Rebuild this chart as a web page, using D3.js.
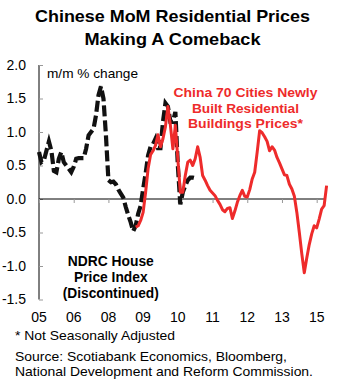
<!DOCTYPE html>
<html><head><meta charset="utf-8">
<script src="https://cdn.jsdelivr.net/npm/d3@7/dist/d3.min.js"></script>
<style>body{margin:0;background:#fff;} svg{display:block;font-family:"Liberation Sans",Arial,sans-serif;}</style>
</head><body><div id="chart"></div>
<script>
// Month index (from start of axis) for tick marks, and their labels
const tickMonths = [0, 14, 28, 42, 56, 70, 84, 98, 112];
const tickLabels = ["05", "06", "08", "09", "10", "11", "12", "13", "15"];
const yTicks = [-1.5, -1.0, -0.5, 0.0, 0.5, 1.0, 1.5, 2.0];

// NDRC House Price Index (m/m %), monthly from month 0
const ndrcStart = 0;
const ndrcValues = [0.70,0.55,0.58,0.72,0.86,0.72,0.42,0.40,0.60,0.70,
  0.55,0.50,0.45,0.40,0.48,0.60,0.61,0.61,0.61,0.75,
  0.95,1.00,1.05,1.25,1.55,1.68,1.50,0.95,0.28,0.25,
  0.26,0.22,0.14,0.08,0.02,-0.12,-0.24,-0.35,-0.48,-0.40,
  -0.22,-0.10,0.15,0.38,0.65,0.78,0.82,0.90,0.76,0.76,
  1.15,1.43,1.38,1.15,1.15,1.30,0.50,-0.08,0.10,0.20,
  0.28,0.32,0.32,0.31];

// China 70 cities newly built residential prices (m/m %), monthly from month 39
const cityStart = 39;
const cityValues = [-0.42,-0.40,-0.32,-0.20,0.10,0.45,0.66,0.72,0.80,0.96,
  0.78,0.90,1.08,1.38,1.10,0.75,1.10,0.60,0.10,0.10,
  0.35,0.55,0.58,0.50,0.60,0.78,0.62,0.35,0.28,0.20,
  0.13,0.09,0.05,-0.02,-0.08,-0.16,-0.19,-0.14,-0.13,-0.29,
  -0.18,-0.05,0.05,0.13,0.04,0.03,0.14,0.30,0.40,0.70,
  1.02,0.99,0.93,0.86,0.72,0.78,0.73,0.62,0.54,0.45,
  0.36,0.35,0.22,0.15,0.04,-0.20,-0.50,-0.82,-1.10,-0.88,
  -0.68,-0.52,-0.40,-0.43,-0.30,-0.15,-0.10,0.20];

const W = 342, H = 391;
const svg = d3.select("#chart").append("svg").attr("width", W).attr("height", H);

const x = d3.scaleLinear().domain([0, 116]).range([39, 326.6]);
const y = d3.scaleLinear().domain([-1.5, 2.0]).range([299.5, 65]);

// helper for text with a fitted width
function txt(g, s, px, py, size, len, opts = {}) {
  const t = g.append("text").attr("x", px).attr("y", py).attr("font-size", size).text(s);
  if (len) t.attr("textLength", len).attr("lengthAdjust", "spacingAndGlyphs");
  if (opts.anchor) t.attr("text-anchor", opts.anchor);
  if (opts.bold) t.attr("font-weight", "bold");
  if (opts.fill) t.attr("fill", opts.fill);
  return t;
}

// Title
txt(svg, "Chinese MoM Residential Prices", 172.5, 22, 16.5, 275, {anchor: "middle", bold: true});
txt(svg, "Making A Comeback", 172.5, 44.5, 16.5, 176, {anchor: "middle", bold: true});

// Y axis
const yAxis = svg.append("g").attr("transform", `translate(${x(0)},0)`)
  .call(d3.axisLeft(y).tickValues(yTicks).tickFormat(d3.format(".1f")).tickSize(-4).tickPadding(13));
yAxis.select(".domain").attr("stroke", "#000").attr("d", `M0,${y(-1.5)}V${y(2.0)}`);
yAxis.selectAll(".tick line").attr("stroke", "#999");
yAxis.selectAll(".tick text").attr("font-size", 14).attr("fill", "#000")
  .attr("font-family", "Liberation Sans, Arial, sans-serif").text(d => d3.format(".1f")(d).replace("−", "-"));

// X axis at zero
const xAxis = svg.append("g").attr("transform", `translate(0,${y(0)})`)
  .call(d3.axisBottom(x).tickValues(tickMonths).tickFormat("").tickSize(4).tickSizeOuter(0));
xAxis.select(".domain").attr("stroke", "#000").attr("d", `M${x(0)},0H${x(116) - 1}`);
xAxis.selectAll(".tick line").attr("stroke", "#999");

// X tick labels at bottom
svg.append("g").selectAll("text").data(tickMonths).join("text")
  .attr("x", d => x(d)).attr("y", 322).attr("text-anchor", "middle")
  .attr("font-size", 14).text((d, i) => tickLabels[i]);

// Lines
const line = d3.line().x(d => x(d[0])).y(d => y(d[1]));
const ndrc = ndrcValues.map((v, i) => [ndrcStart + i, v]);
const city = cityValues.map((v, i) => [cityStart + i, v]);

svg.append("path").datum(ndrc).attr("d", line).attr("fill", "none")
  .attr("stroke", "#111").attr("stroke-width", 4.2).attr("stroke-dasharray", "11,4");
svg.append("path").datum(city).attr("d", line).attr("fill", "none")
  .attr("stroke", "#ee2b2b").attr("stroke-width", 3).attr("stroke-linejoin", "round");

// Annotations
txt(svg, "m/m % change", 47, 78, 13.5, 91);

const red = [["China 70 Cities Newly", 144], ["Built Residential", 107], ["Buildings Prices*", 115]];
red.forEach((d, i) => txt(svg, d[0], 245.5, 97 + i * 15.5, 13, d[1], {anchor: "middle", bold: true, fill: "#ee2b2b"}));

const nd = [["NDRC House", 86], ["Price Index", 73.5], ["(Discontinued)", 96]];
nd.forEach((d, i) => txt(svg, d[0], 110.8, 266 + i * 16, 14, d[1], {anchor: "middle", bold: true}));

// Footer
const foot = [["* Not Seasonally Adjusted", 160, 340], ["Source: Scotiabank Economics, Bloomberg,", 272, 360.5], ["National Development and Reform Commission.", 298, 376]];
foot.forEach(d => txt(svg, d[0], 15, d[2], 13, d[1]));
</script></body></html>
